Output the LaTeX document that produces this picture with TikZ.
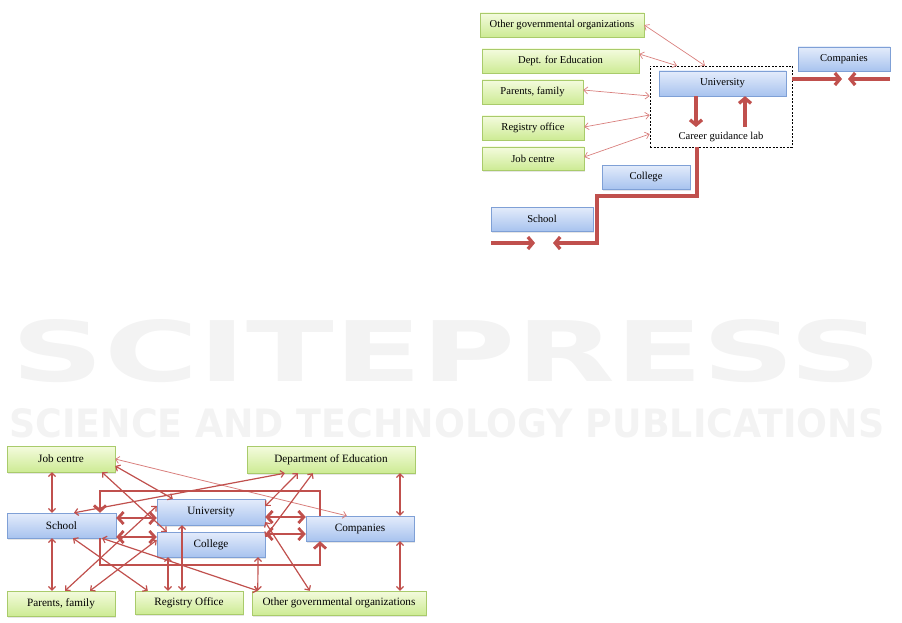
\documentclass[tikz,border=0pt]{standalone}
\usepackage{fontspec}
\setmainfont{Liberation Serif}
\newfontfamily\wmfont{DejaVu Sans}
\usetikzlibrary{arrows.meta,shadows}

\definecolor{arrowred}{HTML}{C0504D}
\definecolor{lightred}{HTML}{D9807E}
\definecolor{greentop}{HTML}{F4FBDE}
\definecolor{greenbot}{HTML}{CDEB94}
\definecolor{greenline}{HTML}{A9CB6B}
\definecolor{bluetop}{HTML}{E4ECFB}
\definecolor{bluebot}{HTML}{A8C3EF}
\definecolor{blueline}{HTML}{7FA0D6}
\definecolor{wmgray}{HTML}{F3F3F3}

\tikzset{
    actor/.style={draw=greenline, top color=greentop, bottom color=greenbot,
        inner sep=0pt, drop shadow={shadow xshift=1pt, shadow yshift=-1.5pt, opacity=0.2}},
    inst/.style={draw=blueline, top color=bluetop, bottom color=bluebot,
        inner sep=0pt, drop shadow={shadow xshift=1pt, shadow yshift=-1.5pt, opacity=0.2}},
    smalltext/.style={font=\fontsize{10.6}{12}\selectfont},
    bigtext/.style={font=\fontsize{11.2}{13}\selectfont},
    thinarrow/.style={draw=lightred, line width=0.7pt, >={Straight Barb[length=4pt,width=7pt]}, <->},
    linkarrow/.style={draw=arrowred, line width=1.2pt, >={Straight Barb[length=3.5pt,width=7pt]}, <->},
    faintlink/.style={draw=lightred, line width=0.8pt, >={Straight Barb[length=3.5pt,width=7pt]}, <->},
    flowarrow/.style={draw=arrowred, line width=3.3pt, >={Straight Barb[length=5pt,width=12pt]}},
    ringarrow/.style={draw=arrowred, line width=2.8pt, >={Straight Barb[length=5.5pt,width=12pt]}}
}

\begin{document}
\begin{tikzpicture}[x=1pt,y=-1pt]
\useasboundingbox (0,0) rectangle (902,623);

% watermark
\node[text=wmgray, inner sep=0pt] (wmA) at (447,351) {\resizebox{870pt}{62pt}{\wmfont\bfseries SCITEPRESS}};
\node[text=wmgray, inner sep=0pt] (wmB) at (447,423) {\resizebox{875pt}{29pt}{\wmfont\bfseries SCIENCE AND TECHNOLOGY PUBLICATIONS}};

% upper picture: career guidance lab
\node[actor, smalltext, minimum width=164pt, minimum height=24pt] (ogoT) at (562,25) {Other governmental organizations};
\node[actor, smalltext, minimum width=157pt, minimum height=24pt] (dfeT) at (560.5,61) {Dept. for Education};
\node[actor, smalltext, minimum width=101pt, minimum height=24pt] (pfT) at (532.5,92) {Parents, family};
\node[actor, smalltext, minimum width=102pt, minimum height=24pt] (roT) at (533,128) {Registry office};
\node[actor, smalltext, minimum width=102pt, minimum height=23pt] (jcT) at (533,158.5) {Job centre};
\node[inst, smalltext, minimum width=88pt, minimum height=24pt] (colT) at (646,177) {College};
\node[inst, smalltext, minimum width=102pt, minimum height=24pt] (schT) at (542,219) {School};
\node[inst, smalltext, minimum width=92pt, minimum height=24pt] (comT) at (844,59) {Companies};
\node[draw, dash pattern=on 2pt off 1.5pt, line width=0.6pt, minimum width=142pt, minimum height=81pt, inner sep=0pt] (labT) at (721,106.5) {};
\node[inst, smalltext, minimum width=127pt, minimum height=25pt] (uniT) at (722.5,83.5) {University};
\node[smalltext] (labtxt) at (721,137) {Career guidance lab};

\coordinate (labdown) at (696,127);
\coordinate (labup) at (745,127);
\coordinate (comin) at (842,79);
\coordinate (comout) at (890,79);
\coordinate (comtip) at (848,79);
\coordinate (stairA) at (597,196);
\coordinate (stairB) at (553,243);
\coordinate (schin) at (491,243);
\coordinate (schtip) at (535,243);

\draw[thinarrow] (ogoT.east) -- ([xshift=-16pt]labT.north);
\draw[thinarrow] ([yshift=7pt]dfeT.east) -- ([xshift=-44pt]labT.north);
\draw[thinarrow] ([yshift=2pt]pfT.east) -- ([yshift=10.5pt]labT.west);
\draw[thinarrow] ([yshift=1pt]roT.east) -- ([yshift=-8.5pt]labT.west);
\draw[thinarrow] ([yshift=1.5pt]jcT.east) -- ([yshift=-27.5pt]labT.west);

\draw[flowarrow,->] ([xshift=-26.5pt]uniT.south) -- (labdown);
\draw[flowarrow,->] (labup) -- ([xshift=22.5pt]uniT.south);
\draw[flowarrow,->] ([yshift=27.5pt]labT.east) -- (comin);
\draw[flowarrow,->] (comout) -- (comtip);
\draw[flowarrow,->] ([xshift=-24pt]labT.south) |- (stairA) |- (stairB);
\draw[flowarrow,->] (schin) -- (schtip);

% lower picture: network of actors
\node[actor, bigtext, minimum width=108pt, minimum height=26pt] (jcB) at (61,459) {Job centre};
\node[actor, bigtext, minimum width=168pt, minimum height=27pt] (dfeB) at (331,459.5) {Department of Education};
\node[inst, bigtext, minimum width=109pt, minimum height=25pt] (schB) at (61.5,525.5) {School};
\node[inst, bigtext, minimum width=108pt, minimum height=26pt] (uniB) at (211,512) {University};
\node[inst, bigtext, minimum width=108pt, minimum height=25pt] (colB) at (211,544.5) {College};
\node[inst, bigtext, minimum width=108pt, minimum height=25pt] (comB) at (360,528.5) {Companies};
\node[actor, bigtext, minimum width=108pt, minimum height=25pt] (pfB) at (61,603.5) {Parents, family};
\node[actor, bigtext, minimum width=108pt, minimum height=23pt] (roB) at (189,602.5) {Registry Office};
\node[actor, bigtext, minimum width=174pt, minimum height=24pt] (ogoB) at (339,603) {Other governmental organizations};

\coordinate (ringTL) at (100,491);
\coordinate (ringBL) at (100,565);

\draw[linkarrow] ([xshift=-9pt]jcB.south) -- ([xshift=-9.5pt]schB.north);
\draw[linkarrow] ([xshift=-9.5pt]schB.south) -- ([xshift=-9pt]pfB.north);
\draw[linkarrow] ([xshift=69pt]dfeB.south) -- ([xshift=40pt]comB.north);
\draw[linkarrow] ([xshift=40pt]comB.south) -- ([xshift=61pt]ogoB.north);
\draw[linkarrow] ([xshift=41pt]jcB.south) -- ([xshift=10pt]colB.north west);
\draw[faintlink] (jcB.east) -- ([xshift=41pt]comB.north west);
\draw[linkarrow] ([yshift=-7pt]jcB.east) -- ([xshift=16pt]uniB.north west);
\draw[linkarrow] ([xshift=12.5pt]schB.north) -- ([xshift=38pt]dfeB.south west);
\draw[linkarrow] ([xshift=51pt]dfeB.south west) -- ([yshift=6pt]uniB.east);
\draw[linkarrow] ([xshift=66pt]dfeB.south west) -- ([yshift=7.5pt]colB.east);
\draw[linkarrow] ([yshift=6pt]uniB.west) -- ([xshift=4pt]pfB.north);
\draw[linkarrow] ([yshift=4.5pt]colB.west) -- ([xshift=29pt]pfB.north);
\draw[linkarrow] ([xshift=11.5pt]schB.south) -- ([xshift=13pt]roB.north west);
\draw[linkarrow] ([xshift=40.5pt]schB.south) -- ([xshift=6pt]ogoB.north west);
\draw[linkarrow] ([xshift=-29pt]uniB.south) -- ([xshift=-7pt]roB.north);
\draw[linkarrow] ([xshift=-43pt]colB.south) -- ([xshift=-21pt]roB.north);
\draw[linkarrow] ([xshift=47pt]colB.south) -- ([xshift=6pt]ogoB.north west);
\draw[linkarrow] ([yshift=-10pt]uniB.east) -- ([xshift=58pt]ogoB.north west);

\draw[ringarrow,<->] ([yshift=7.5pt]schB.east) -- ([yshift=-6pt]uniB.west);
\draw[ringarrow,<->] ([yshift=-11.5pt]schB.east) -- ([yshift=7.5pt]colB.west);
\draw[ringarrow,<->] ([yshift=-5pt]uniB.east) -- ([yshift=11.5pt]comB.west);
\draw[ringarrow,<->] ([yshift=10.5pt]colB.east) -- ([yshift=-5.5pt]comB.west);
\draw[ringarrow,->] ([xshift=-40pt]comB.north) |- (ringTL) -- (schB.north -| ringTL);
\draw[ringarrow,->] (schB.south -| ringBL) -- (ringBL) -| ([xshift=-40pt]comB.south);
\end{tikzpicture}
\end{document}
